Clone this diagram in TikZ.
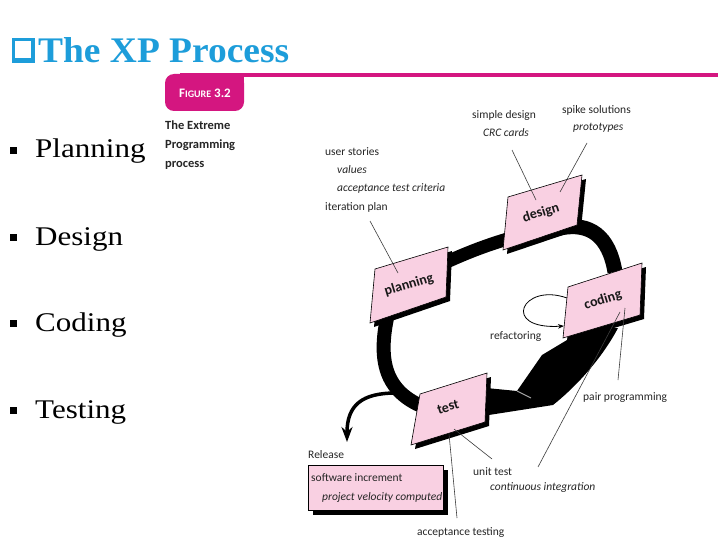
\documentclass[tikz,border=0pt]{standalone}
\usepackage{fontspec}
\setmainfont{Liberation Serif}
\newfontfamily\lblfont{Carlito}
\usetikzlibrary{arrows.meta}
\definecolor{titleblue}{RGB}{29,157,218}
\definecolor{figmag}{RGB}{212,22,128}
\definecolor{boxpink}{RGB}{249,208,226}
\definecolor{leadgray}{RGB}{60,60,60}
\tikzset{
  lbl/.style={font=\lblfont\fontsize{11.5}{13}\selectfont, anchor=west, inner sep=0pt, text=black!85},
  lbli/.style={font=\lblfont\itshape\fontsize{11.5}{13}\selectfont, anchor=west, inner sep=0pt, text=black!85},
  boxlbl/.style={font=\lblfont\bfseries\fontsize{14}{16}\selectfont, rotate=17, inner sep=0pt, text=black!90},
  leader/.style={draw=leadgray, line width=0.6pt},
  bandline/.style={draw=black},
  cardshadow/.style={fill=black},
  card/.style={fill=boxpink, draw=black, line width=0.6pt},
  bultext/.style={font=\fontsize{27}{30}\selectfont, anchor=base west, inner sep=0pt},
  figtext/.style={font=\lblfont\bfseries\fontsize{12.5}{14}\selectfont, anchor=west, inner sep=0pt, text=black!85}
}
\begin{document}
\begin{tikzpicture}[x=1pt,y=-1pt]
\useasboundingbox (0,0) rectangle (720,540);
\fill[white] (0,0) rectangle (720,540);

% title
\fill[titleblue] (12,38) rectangle (35,63);
\fill[white] (15,41) rectangle (31,58);
\node[anchor=base west, inner sep=0pt, text=titleblue, font=\bfseries\fontsize{36}{40}\selectfont] (title) at (38,63) {\scalebox{1.04}[1]{The XP Process}};

% bullets
\foreach \yy/\nm/\txt in {158/b1/Planning, 245/b2/Design, 331/b3/Coding, 418/b4/Testing}{
  \fill (10,\yy-11) rectangle (17,\yy-4);
  \node[bultext] (\nm) at (35,\yy) {\scalebox{1.15}[1]{\txt}};
}

% figure header
\draw[figmag, line width=3.5pt] (180,75) -- (718,75);
\fill[figmag, rounded corners=9pt] (165,74) rectangle (244,111);
\fill[figmag] (228,74) rectangle (244,86);
\node[text=white, inner sep=0pt, font=\lblfont\bfseries] (fig) at (205,93) {\fontsize{13}{14}\selectfont F\fontsize{10}{12}\selectfont IGURE\fontsize{13}{14}\selectfont\ 3.2};
\node[figtext] (fa) at (165,125) {The Extreme};
\node[figtext] (fb) at (165,145) {Programming};
\node[figtext] (fc) at (165,165) {process};

% the loop band
\draw[bandline, line width=14pt] (387,318) .. controls (378,362) and (385,395) .. (432,410);
\draw[bandline, line width=13pt] (425,272) .. controls (455,258) and (480,246) .. (525,234);
\draw[bandline, line width=15pt] (560,228) .. controls (590,222) and (609,236) .. (615,272);
\fill (570,330) -- (567,340) -- (542,355) -- (517,391) -- (476,387) -- (476,417) -- (553,405)
  .. controls (572,390) and (600,362) .. (618,328) -- cycle;
\draw[gray!70, line width=1pt] (517,391) -- (531,398);

% release arrow
\coordinate (relstart) at (396,393);
\coordinate (reltip) at (347,442);
\draw[line width=3.5pt, -{Stealth[length=15pt,width=11pt]}] (relstart) .. controls (362,393) and (347,405) .. (reltip);

% cards
\fill[cardshadow] (379,273) -- (452,251) -- (450,301) -- (374,327) -- cycle;
\path[card] (375,269) -- (448,247) -- (446,297) -- (370,323) -- cycle;
\node[boxlbl] (planning) at (409,285) {planning};

\fill[cardshadow] (512,201) -- (586,179) -- (581,229) -- (507,254) -- cycle;
\path[card] (508,197) -- (582,175) -- (577,225) -- (503,250) -- cycle;
\node[boxlbl] (design) at (541,213) {design};

\fill[cardshadow] (572,291) -- (646,267) -- (644,319) -- (567,342) -- cycle;
\path[card] (568,287) -- (642,263) -- (640,315) -- (563,338) -- cycle;
\node[boxlbl] (coding) at (603,300) {coding};

\fill[cardshadow] (424,398) -- (491,377) -- (489,426) -- (415,449) -- cycle;
\path[card] (420,394) -- (487,373) -- (485,422) -- (411,445) -- cycle;
\node[boxlbl] (test) at (448,407) {test};

% release box
\fill[cardshadow] (313,470) rectangle (448,515);
\filldraw[card] (308,465) rectangle (443,510);
\node[lbl] (release) at (308,455) {Release};
\node[lbl] (swinc) at (311,478) {software increment};
\node[lbli] (velo) at (322,497) {project velocity computed};

% refactoring loop
\coordinate (rfa) at (567,298);
\coordinate (rfb) at (564,326);
\draw[line width=0.8pt, -{Stealth[length=6pt,width=4.5pt]}] (rfa) .. controls (522,282) and (500,330) .. (rfb);
\node[lbl] (refac) at (490,337) {refactoring};

% labels
\node[lbl] (us) at (325,152) {user stories};
\node[lbli] (val) at (337,170) {values};
\node[lbli] (atc) at (337,188) {acceptance test criteria};
\node[lbl] (ip) at (325,207) {iteration plan};

\node[lbl] (sd) at (472,115) {simple design};
\node[lbli] (crc) at (483,133) {CRC cards};
\node[lbl] (ss) at (562,110) {spike solutions};
\node[lbli] (proto) at (573,128) {prototypes};

\node[lbl] (pp) at (583,398) {pair programming};
\node[lbl] (ut) at (473,472) {unit test};
\node[lbli] (ci) at (490,488) {continuous integration};
\node[lbl] (at) at (417,533) {acceptance testing};

% leader lines
\coordinate (l1a) at (370,221); \coordinate (l1b) at (398,273);
\coordinate (l2a) at (512,150); \coordinate (l2b) at (536,200);
\coordinate (l3a) at (587,143); \coordinate (l3b) at (560,192);
\coordinate (l4a) at (618,380); \coordinate (l4b) at (625,308);
\coordinate (l5a) at (538,467); \coordinate (l5b) at (620,312);
\coordinate (l6a) at (492,459); \coordinate (l6b) at (454,429);
\coordinate (l7a) at (457,518); \coordinate (l7b) at (449,434);
\draw[leader] (l1a) -- (l1b);
\draw[leader] (l2a) -- (l2b);
\draw[leader] (l3a) -- (l3b);
\draw[leader] (l4a) -- (l4b);
\draw[leader] (l5a) -- (l5b);
\draw[leader] (l6a) -- (l6b);
\draw[leader] (l7a) -- (l7b);
\end{tikzpicture}
\end{document}
